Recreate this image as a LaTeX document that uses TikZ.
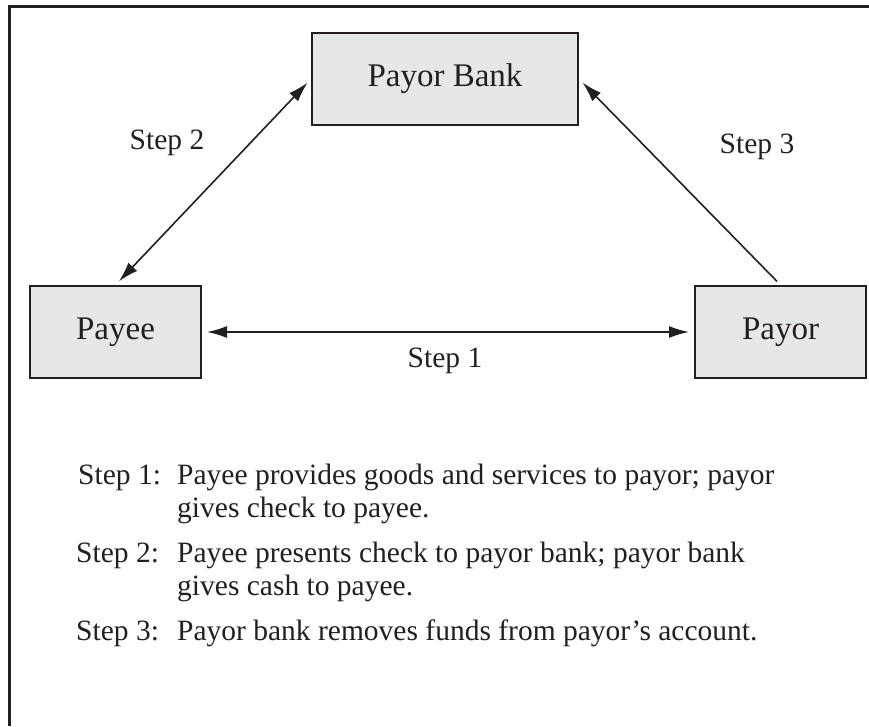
\documentclass[tikz,border=0pt]{standalone}
\usepackage{fontspec}
\setmainfont{Liberation Serif}
\usetikzlibrary{arrows.meta}
\definecolor{boxgray}{HTML}{E6E7E8}
\definecolor{inkgray}{HTML}{231F20}
\newcommand\stepline[4]{
		\node (#1) at (#2,#3) [anchor=base west,steptext] {#4};
	}
\begin{document}
\begin{tikzpicture}[x=1pt,y=-1pt,every path/.style={>={Latex[length=20pt,width=12pt]}},
	party/.style={draw=inkgray,line width=2pt,fill=boxgray,minimum width=171pt,minimum height=92pt,font=\fontsize{33}{36}\selectfont,text=inkgray},
	flow/.style={draw=inkgray,line width=1.6pt,shorten <=5pt,shorten >=5pt},
	steptext/.style={font=\fontsize{29.5}{33}\selectfont,text=inkgray,inner sep=0pt}]
		\useasboundingbox (0,0) rectangle (869,726);
		% draw frame
		\draw[inkgray,line width=3pt] (9,726) -- (9,6) -- (869,6);

		% draw boxes
		\node (bank) at (445,79) [party,minimum width=266pt] {Payor Bank};
		\node (payee) at (115.5,332) [party] {Payee};
		\node (payor) at (780.5,332) [party] {Payor};

		% draw arrows
		\draw[flow,<->] (payee.east) to (payor.west);
		\draw[flow,<->] (payee.north) to (bank.west);
		\draw[flow,->] (payor.north) to (bank.east);

		% draw step labels
		\node (s1) at (445,361) [steptext] {Step 1};
		\node (s2) at (167,143) [steptext] {Step 2};
		\node (s3) at (757,147) [steptext] {Step 3};

		% draw explanation
		\stepline{k1}{78}{484}{Step 1:}
		\stepline{t1a}{177}{484}{Payee provides goods and services to payor; payor}
		\stepline{t1b}{177}{517}{gives check to payee.}
		\stepline{k2}{76}{562}{Step 2:}
		\stepline{t2a}{177}{562}{Payee presents check to payor bank; payor bank}
		\stepline{t2b}{177}{595}{gives cash to payee.}
		\stepline{k3}{76}{640}{Step 3:}
		\stepline{t3a}{177}{640}{Payor bank removes funds from payor’s account.}
	\end{tikzpicture}
\end{document}
